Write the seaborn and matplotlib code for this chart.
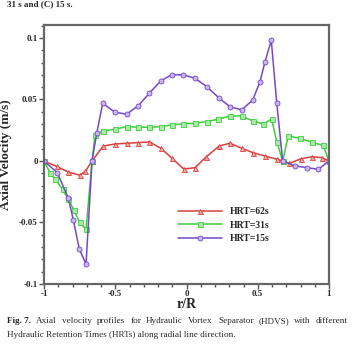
import matplotlib
matplotlib.use("Agg")
import matplotlib.pyplot as plt
import seaborn as sns
import numpy as np
from matplotlib.ticker import MultipleLocator, FixedLocator, FixedFormatter

# ---- data ----
x62 = [-1.0, -0.91, -0.83, -0.75, -0.71, -0.663, -0.584, -0.50, -0.42, -0.34, -0.26, -0.18,
       -0.10, -0.02, 0.06, 0.14, 0.23, 0.305, 0.387, 0.465, 0.55, 0.633, 0.675, 0.72,
       0.80, 0.88, 0.95, 1.0]
y62 = [0, -0.0045, -0.009, -0.0115, -0.0085, 0, 0.0122, 0.0138, 0.0144, 0.0149, 0.0155, 0.0103,
       0.002, -0.0065, -0.0055, 0.0035, 0.0122, 0.0144, 0.0103, 0.0068, 0.004, 0.0014, 0, -0.002,
       0.0016, 0.0035, 0.0027, 0]

x31 = [-1.0, -0.958, -0.92, -0.87, -0.83, -0.79, -0.75, -0.705, -0.663, -0.642, -0.584, -0.50,
       -0.42, -0.338, -0.261, -0.179, -0.104, -0.022, 0.06, 0.142, 0.223, 0.305, 0.387, 0.465,
       0.539, 0.598, 0.633, 0.675, 0.714, 0.796, 0.879, 0.958, 1.0]
y31 = [0, -0.0095, -0.015, -0.023, -0.031, -0.040, -0.050, -0.0555, 0, 0.021, 0.0244, 0.0258,
       0.0279, 0.0274, 0.0274, 0.0279, 0.0293, 0.0303, 0.0306, 0.032, 0.0339, 0.0366, 0.0366, 0.0325,
       0.0301, 0.0339, 0.0157, 0, 0.0203, 0.0184, 0.0152, 0.0127, 0]

x15 = [-1.0, -0.907, -0.83, -0.794, -0.752, -0.705, -0.663, -0.63, -0.588, -0.502, -0.42, -0.338,
       -0.261, -0.179, -0.104, -0.022, 0.06, 0.142, 0.23, 0.305, 0.387, 0.465, 0.516, 0.551,
       0.595, 0.633, 0.675, 0.761, 0.843, 0.925, 1.0]
y15 = [0, -0.0095, -0.030, -0.048, -0.0718, -0.0837, 0, 0.0225, 0.0469, 0.0396, 0.038, 0.045,
       0.055, 0.0653, 0.070, 0.070, 0.0672, 0.0604, 0.051, 0.0441, 0.0415, 0.0496, 0.0645, 0.0807,
       0.098, 0.0474, 0, -0.004, -0.0054, -0.0068, 0]

labels = ["HRT=62s", "HRT=31s", "HRT=15s"]
xticks = [-1, -0.5, 0, 0.5, 1]
xticklabels = ["-1", "-0.5", "0", "0.5", "1"]
yticks = [-0.1, -0.05, 0, 0.05, 0.1]
yticklabels = ["-0.1", "-0.05", "0", "0.05", "0.1"]

sns.set_theme(style="ticks")
plt.rcParams['font.family'] = ['Liberation Serif', 'DejaVu Serif']

fig = plt.figure(figsize=(3.56, 3.51), dpi=100)
ax = fig.add_axes([44/356, 1-284/351, (329-44)/356, (284-25)/351])

series = [
    (x62, y62, labels[0], "#d9403c", "#f0a9a6", "^"),
    (x31, y31, labels[1], "#3ccc3c", "#a8eba8", "s"),
    (x15, y15, labels[2], "#7449c8", "#c9b5ee", "o"),
]
for xs, ys, lab, col, fc, mk in series:
    sns.lineplot(x=xs, y=ys, ax=ax, color=col, linewidth=1.1, marker=mk, markersize=3.6,
                 markerfacecolor=fc, markeredgecolor=col, markeredgewidth=0.6, label=lab,
                 sort=False)

ax.set_xlim(-1, 1)
ax.set_ylim(-0.1, 0.1105)
ax.xaxis.set_major_locator(FixedLocator(xticks))
ax.xaxis.set_major_formatter(FixedFormatter(xticklabels))
ax.yaxis.set_major_locator(FixedLocator(yticks))
ax.yaxis.set_major_formatter(FixedFormatter(yticklabels))
ax.xaxis.set_minor_locator(MultipleLocator(0.1))
ax.yaxis.set_minor_locator(MultipleLocator(0.01))
ax.tick_params(which="both", direction="out", top=False, right=False, color="#555555", width=1.0)
ax.tick_params(which="major", length=3.5, labelsize=6.5, pad=1)
ax.tick_params(which="minor", length=2.2)
for lbl in ax.get_xticklabels() + ax.get_yticklabels():
    lbl.set_fontweight("bold")
for sp in ax.spines.values():
    sp.set_visible(True)
    sp.set_color("#666666")
    sp.set_linewidth(1.6)

ax.set_xlabel("r/R", fontsize=10, fontweight="bold", labelpad=0)
ax.set_ylabel("Axial Velocity (m/s)", fontsize=9.5, fontweight="bold", labelpad=5)

leg = ax.legend(loc="upper left", bbox_to_anchor=(0.44, 0.33), frameon=False,
                prop={"size": 7, "weight": "bold"}, handlelength=4.5, handletextpad=0.8,
                labelspacing=0.45)

fig.text(0.02, 0.999, "31 s and (C) 15 s.", fontsize=6.5, fontweight="bold", va="top", ha="left")

# caption, first line justified across the width like the reference
fig.canvas.draw()
renderer = fig.canvas.get_renderer()
cap_fs = 6.6
left_px, right_px = 7, 348
y1 = 1 - 321/351
words1 = [("Fig. 7.", "bold")] + [(w, "normal") for w in
          "Axial velocity profiles for Hydraulic Vortex Separator (HDVS) with different".split()]
arts = []
total = 0.0
for w, fw in words1:
    t = fig.text(0, y1, w, fontsize=cap_fs, fontweight=fw, va="center", ha="left")
    bb = t.get_window_extent(renderer)
    arts.append((t, bb.width))
    total += bb.width
gap = (right_px - left_px - total) / (len(arts) - 1)
pos = left_px
for t, wdt in arts:
    t.set_x(pos / 356)
    pos += wdt + gap

fig.text(left_px/356, 1-335/351,
         "Hydraulic Retention Times (HRTs) along radial line direction.",
         fontsize=cap_fs, va="center", ha="left")

fig.savefig("out.png", dpi=100)
